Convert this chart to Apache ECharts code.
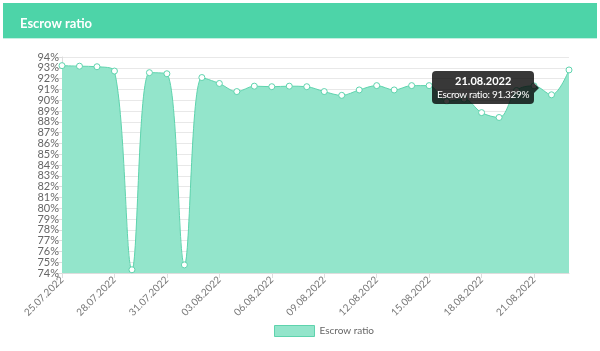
<!DOCTYPE html>
<html lang="en">
<head>
<meta charset="utf-8">
<title>Escrow ratio</title>
<script src="https://cdn.jsdelivr.net/npm/echarts@6/dist/echarts.min.js"></script>
<style>
  html, body { margin: 0; padding: 0; background: #fff; }
  #container { width: 600px; height: 351px; }
</style>
</head>
<body>
<div id="container"></div>
<script>
var days = ['25.07.2022','26.07.2022','27.07.2022','28.07.2022','29.07.2022','30.07.2022','31.07.2022',
            '01.08.2022','02.08.2022','03.08.2022','04.08.2022','05.08.2022','06.08.2022','07.08.2022',
            '08.08.2022','09.08.2022','10.08.2022','11.08.2022','12.08.2022','13.08.2022','14.08.2022',
            '15.08.2022','16.08.2022','17.08.2022','18.08.2022','19.08.2022','20.08.2022','21.08.2022',
            '22.08.2022','23.08.2022'];
var ratios = [93.2, 93.15, 93.1, 92.7, 74.3, 92.55, 92.45,
              74.75, 92.1, 91.55, 90.8, 91.3, 91.25, 91.3,
              91.25, 90.8, 90.45, 90.95, 91.35, 90.95, 91.35,
              91.35, 89.9, 90.1, 88.85, 88.4, 90.9, 91.329,
              90.5, 92.8];
var seriesName = 'Escrow ratio';
var tipIndex = 27;

var lineColor = '#5ed3ad';
var fillColor = '#93e5cb';
var font = 'Lato, "Open Sans", sans-serif';

var myChart = echarts.init(document.getElementById('container'));
var option = {
  animation: false,
  textStyle: { fontFamily: font },
  graphic: [{
    type: 'rect',
    shape: { x: 3, y: 3, width: 594, height: 35 },
    style: { fill: '#4dd4a8' },
    z: 0
  }, {
    type: 'rect',
    shape: { x: 3, y: 38, width: 594, height: 1 },
    style: { fill: '#c4f0e2' },
    z: 0
  }],
  title: {
    text: 'Escrow ratio',
    left: 15, top: 12,
    textStyle: { color: '#fff', fontSize: 13, fontWeight: 'bold', fontFamily: font }
  },
  legend: {
    bottom: 9, left: 269,
    itemWidth: 40, itemHeight: 11, itemGap: 6,
    icon: 'rect',
    textStyle: { color: '#666', fontSize: 10, fontFamily: font },
    data: [{ name: seriesName, itemStyle: { color: fillColor, borderColor: lineColor, borderWidth: 1 } }]
  },
  grid: { left: 62, right: 31, top: 57, bottom: 78 },
  tooltip: {
    trigger: 'item',
    alwaysShowContent: true,
    triggerOn: 'none',
    backgroundColor: 'rgba(0,0,0,0.78)',
    borderWidth: 0,
    padding: [3, 5],
    extraCssText: 'box-shadow:none;border-radius:4px;overflow:visible;',
    textStyle: { color: '#fff', fontSize: 10, fontFamily: font },
    position: function () { return [432, 71]; },
    formatter: function (p) {
      return '<div style="text-align:center;font-weight:bold;font-size:11px;line-height:13px">' + p.name + '</div>' +
        '<div style="line-height:13px;margin-top:1px;letter-spacing:-0.3px">' + p.seriesName + ': ' + p.value + '%</div>' +
        '<span style="position:absolute;right:-5px;top:50%;margin-top:-5px;width:0;height:0;' +
        'border-top:5px solid transparent;border-bottom:5px solid transparent;' +
        'border-left:5px solid rgba(0,0,0,0.78)"></span>';
    }
  },
  xAxis: {
    type: 'category',
    boundaryGap: false,
    data: days,
    axisLine: { lineStyle: { color: '#ddd' } },
    axisTick: { interval: 2, length: 5, lineStyle: { color: '#ddd' } },
    axisLabel: { interval: 2, rotate: 45, color: '#777', fontSize: 10, margin: 5, fontFamily: font },
    splitLine: { show: false }
  },
  yAxis: {
    type: 'value',
    min: 74, max: 94, interval: 1,
    axisLine: { show: true, lineStyle: { color: '#ddd' } },
    axisTick: { show: true, length: 5, lineStyle: { color: '#ddd' } },
    axisLabel: { formatter: '{value}%', color: '#666', fontSize: 11, margin: 3, fontFamily: font },
    splitLine: { lineStyle: { color: '#e8e8e8' } }
  },
  series: [{
    name: seriesName,
    type: 'line',
    data: ratios,
    smooth: 0.35,
    symbol: 'circle',
    symbolSize: 6,
    lineStyle: { color: lineColor, width: 1 },
    itemStyle: { color: '#fff', borderColor: lineColor, borderWidth: 1 },
    areaStyle: { color: fillColor, opacity: 1 },
    emphasis: { scale: false, disabled: true }
  }]
};
myChart.setOption(option);
myChart.dispatchAction({ type: 'showTip', seriesIndex: 0, dataIndex: tipIndex });
</script>
</body>
</html>
